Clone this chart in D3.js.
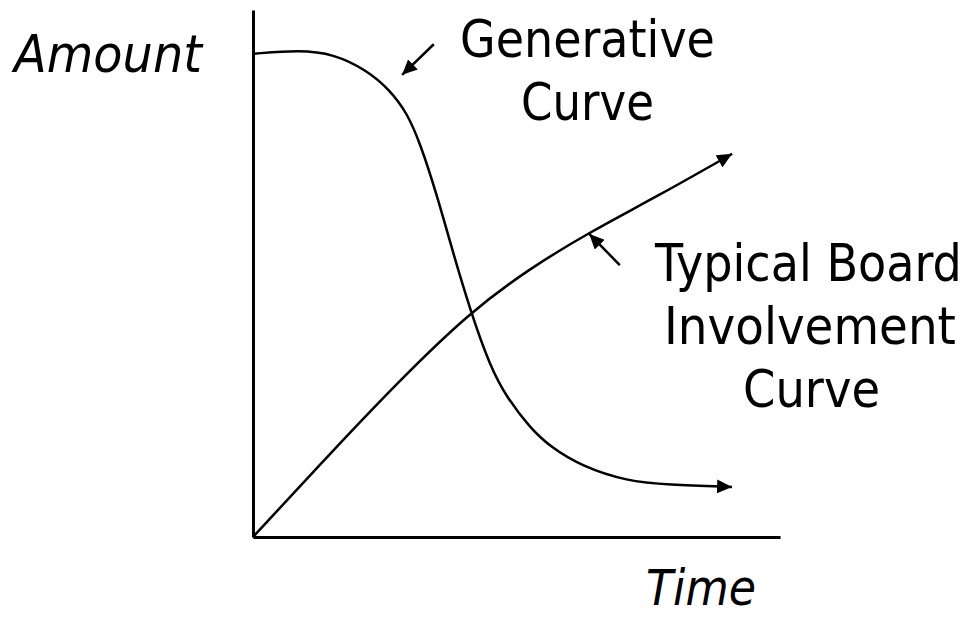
<!DOCTYPE html>
<html>
<head>
<meta charset="utf-8">
<script src="https://cdn.jsdelivr.net/npm/d3@7"></script>
<style>
  html, body { margin: 0; padding: 0; background: #fff; }
  svg { display: block; }
  text { font-family: "DejaVu Sans", Verdana, sans-serif; fill: #000; }
</style>
</head>
<body>
<svg id="chart" width="970" height="618"></svg>
<script>
// ---- data (time 0..100, amount 0..100) ----
const generativeTime   = [0, 8.9, 15.2, 21.6, 26, 29.2, 31.7, 34.9, 37.8, 41.2, 45, 48.2, 52.6, 56.4, 62.6, 71, 78.6, 90.9];
const generativeAmount = [91.7, 92.4, 91.7, 88.6, 84.8, 80.5, 74.8, 64.9, 54.5, 43.1, 32.3, 26.4, 20.7, 17.1, 13.3, 10.6, 9.9, 9.5];

const boardTime   = [0, 14.6, 27.9, 41.2, 52.6, 63.6, 77.2, 90.9];
const boardAmount = [0, 15.8, 29.8, 42.7, 51.0, 57.7, 64.9, 72.7];

// pointer annotations: [fromTime, fromAmount, toTime, toAmount]
const pointerGenerative = [34.3, 93.5, 28.3, 87.7];
const pointerBoard      = [69.6, 51.6, 63.8, 57.5];

const axisLabels = ["Amount", "Time"];
const curveLabels = [["Generative", "Curve"], ["Typical Board", "Involvement", "Curve"]];

// ---- layout ----
const svg = d3.select("#chart");
const x = d3.scaleLinear().domain([0, 100]).range([253, 780]);
const y = d3.scaleLinear().domain([0, 100]).range([537, 10]);

const defs = svg.append("defs");
defs.append("marker")
  .attr("id", "arrow")
  .attr("markerUnits", "userSpaceOnUse")
  .attr("viewBox", "0 -7 15 14")
  .attr("refX", 15).attr("refY", 0)
  .attr("markerWidth", 15).attr("markerHeight", 14)
  .attr("orient", "auto")
  .append("path").attr("d", "M0,-7L15,0L0,7Z").attr("fill", "#000");

// axes (plain lines, no ticks)
const axisY = d3.axisLeft(y).tickValues([]).tickSizeOuter(0);
const axisX = d3.axisBottom(x).tickValues([]).tickSizeOuter(0);
svg.append("g").attr("transform", `translate(${x(0)},0)`).call(axisY)
  .select(".domain").attr("stroke", "#000").attr("stroke-width", 3);
svg.append("g").attr("transform", `translate(0,${y(0)})`).call(axisX)
  .select(".domain").attr("stroke", "#000").attr("stroke-width", 3);

const line = d3.line().x(d => x(d[0])).y(d => y(d[1])).curve(d3.curveBasis);

const gen = generativeTime.map((t, i) => [t, generativeAmount[i]]);
const board = boardTime.map((t, i) => [t, boardAmount[i]]);

svg.append("path").datum(gen).attr("d", line)
  .attr("fill", "none").attr("stroke", "#000").attr("stroke-width", 2.5)
  .attr("marker-end", "url(#arrow)");
svg.append("path").datum(board).attr("d", line)
  .attr("fill", "none").attr("stroke", "#000").attr("stroke-width", 2.5)
  .attr("marker-end", "url(#arrow)");

[pointerGenerative, pointerBoard].forEach(p => {
  svg.append("line")
    .attr("x1", x(p[0])).attr("y1", y(p[1]))
    .attr("x2", x(p[2])).attr("y2", y(p[3]))
    .attr("stroke", "#000").attr("stroke-width", 2.5)
    .attr("marker-end", "url(#arrow)");
});

// ---- text (horizontally scaled to the reference's narrower face) ----
function label(txt, left, baseline, width, italic, size) {
  const g = svg.append("g");
  const t = g.append("text")
    .attr("x", 0).attr("y", 0)
    .attr("font-size", size || 52)
    .attr("font-style", italic ? "italic" : "normal")
    .text(txt);
  const natural = t.node().getComputedTextLength();
  g.attr("transform", `translate(${left},${baseline}) scale(${width / natural},1)`);
}
label(axisLabels[0], 14, 72, 188, true);
label(axisLabels[1], 646, 605, 110, true, 50);
label(curveLabels[0][0], 460, 57, 255, false);
label(curveLabels[0][1], 521, 120, 133, false);
label(curveLabels[1][0], 655, 281, 307, false);
label(curveLabels[1][1], 664, 344, 292, false);
label(curveLabels[1][2], 743, 407, 137, false);
</script>
</body>
</html>
